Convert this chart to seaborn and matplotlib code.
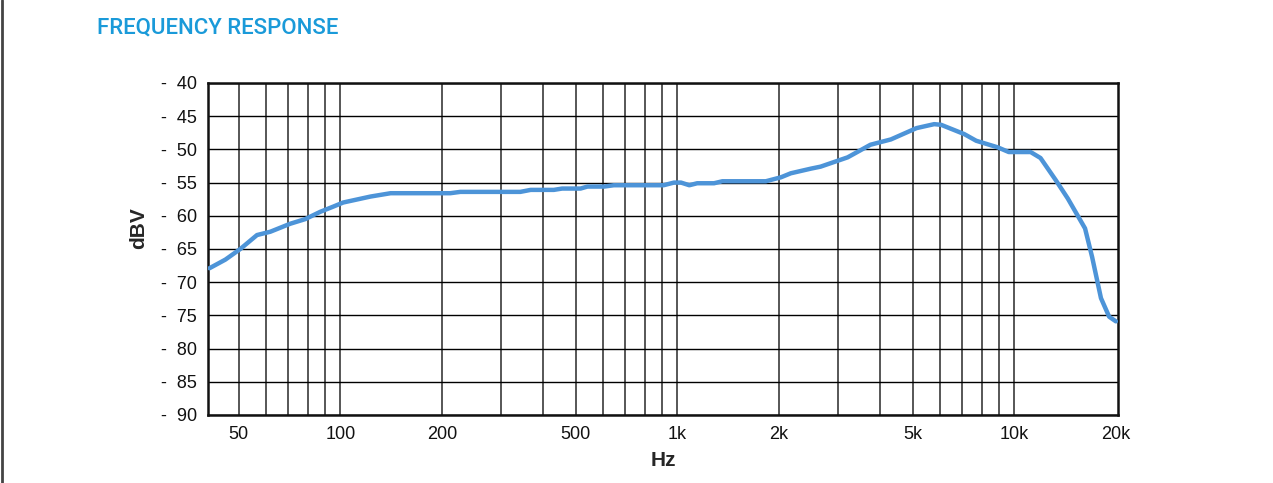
import numpy as np
import pandas as pd
import matplotlib.pyplot as plt
from matplotlib.lines import Line2D
import seaborn as sns

# Frequency response
freq_hz = [40.9, 45.6, 50.5, 56.6, 62, 71, 78.7, 87.2, 95.5, 102, 123, 141,
           212, 227, 342, 367, 430, 455, 516, 541, 606, 648, 910, 977, 1025,
           1085, 1145, 1285, 1360, 1830, 2030, 2170, 2490, 2660, 3200, 3740,
           4300, 5120, 5780, 6060, 7100, 7700, 8930, 9620, 11170, 11950,
           13250, 14400, 16200, 17000, 18060, 19100, 20000]
level_dbv = [-67.9, -66.6, -65.0, -62.9, -62.4, -61.2, -60.5, -59.4, -58.6,
             -58.0, -57.1, -56.6, -56.6, -56.4, -56.4, -56.1, -56.1, -55.9,
             -55.9, -55.6, -55.6, -55.4, -55.4, -55.0, -55.0, -55.4, -55.1,
             -55.1, -54.8, -54.8, -54.2, -53.6, -52.9, -52.6, -51.2, -49.3,
             -48.5, -46.8, -46.2, -46.3, -47.7, -48.7, -49.7, -50.4, -50.4,
             -51.3, -54.6, -57.4, -61.9, -66.2, -72.4, -75.2, -75.9]

x_ticks = [50, 100, 200, 500, 1000, 2000, 5000, 10000, 20000]
x_labels = ['50', '100', '200', '500', '1k', '2k', '5k', '10k', '20k']
y_ticks = list(range(-90, -39, 5))

df = pd.DataFrame({'freq': freq_hz, 'dbv': level_dbv})

sns.set_style('white')
plt.rcParams['font.family'] = ['Liberation Sans', 'DejaVu Sans']

fig = plt.figure(figsize=(12.73, 4.83), dpi=100)
ax = fig.add_axes([0.1634, 0.1408, 0.7149, 0.6874])

# grid: vertical lines at every 1-2-3..9 step, horizontal every 5 dB
vlines = [f for dec in (10, 100, 1000) for f in np.arange(1, 10) * dec * 1.0
          if 40 < f <= 10000] + [10000]
for f in vlines:
    ax.axvline(f, color='#3a3a3a', lw=1.2, zorder=1)
for y in y_ticks:
    ax.axhline(y, color='black', lw=1.0, zorder=1)

sns.lineplot(data=df, x='freq', y='dbv', ax=ax, color='#4d94d8', lw=3.2,
             zorder=3, solid_joinstyle='round', solid_capstyle='round')

ax.set_xscale('log')
ax.set_xlim(40.5, 20300)
ax.set_ylim(-90, -40)
ax.set_xticks(x_ticks)
ax.set_xticklabels(x_labels)
ax.xaxis.set_minor_locator(plt.NullLocator())
ax.set_yticks(y_ticks)
ax.set_yticklabels([f'-  {abs(v)}' for v in y_ticks])
ax.tick_params(axis='both', length=0, labelsize=13, colors='#111111', pad=8)

for s in ax.spines.values():
    s.set_color('#111111')
    s.set_linewidth(1.8)

ax.set_xlabel('Hz', fontsize=15, fontweight='bold', labelpad=6)
ax.set_ylabel('dBV', fontsize=15, fontweight='bold')
ax.yaxis.set_label_coords(-0.066, 0.563)

fig.text(0.076, 0.942, 'FREQUENCY RESPONSE', color='#1a9ad9', fontsize=16,
         fontweight='medium', family=['Roboto', 'DejaVu Sans'],
         ha='left', va='center')
fig.add_artist(Line2D([0.0015, 0.0015], [0, 1], color='#444444', lw=2,
                      transform=fig.transFigure))

fig.savefig('out.png', dpi=100)
